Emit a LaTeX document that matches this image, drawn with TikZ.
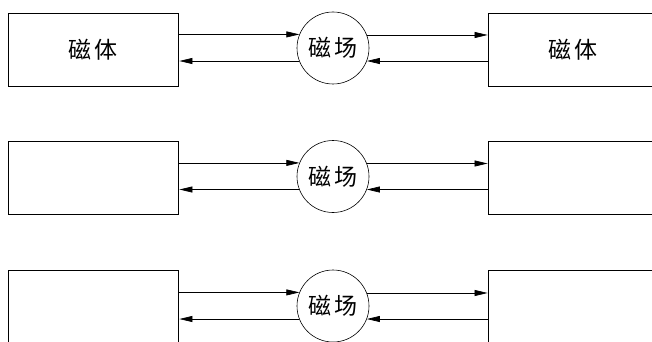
\documentclass[tikz,border=0pt]{standalone}
\usepackage{fontspec}
\newfontfamily\cjk{Noto Sans CJK SC}
\usetikzlibrary{arrows.meta}
\tikzset{
  x=1pt,y=1pt,
  magbox/.style={draw,line width=0.8pt,rectangle,minimum width=170pt,minimum height=73pt,inner sep=0pt,font=\cjk\fontsize{23}{25}\selectfont},
  field/.style={draw,line width=0.6pt,circle,minimum size=72pt,inner sep=0pt,font=\cjk\fontsize{23}{25}\selectfont},
  conn/.style={line width=0.7pt,-{Triangle[length=13pt,width=6pt]}},
}
\begin{document}
\begin{tikzpicture}
\useasboundingbox (0,0) rectangle (652,-342);
\clip (0,0) rectangle (652,-342);
\foreach \r/\yb/\yc/\lab in {1/-49.5/-48/{磁\hspace{3pt}体},2/-177.5/-176.5/{},3/-307/-306/{}}{
  \node[magbox] (L\r) at (93,\yb) {\lab};
  \node[magbox] (R\r) at (573,\yb) {\lab};
  \node[field] (C\r) at (333,\yc) {磁\hspace{3pt}场};
  \draw[conn] (L\r.east |- C\r.158.8) -- (C\r.158.8);
  \draw[conn] (C\r.21.2) -- (R\r.west |- C\r.21.2);
  \draw[conn] (R\r.west |- C\r.-21.2) -- (C\r.-21.2);
  \draw[conn] (C\r.201.2) -- ([xshift=1pt]L\r.east |- C\r.201.2);
}
\end{tikzpicture}
\end{document}
